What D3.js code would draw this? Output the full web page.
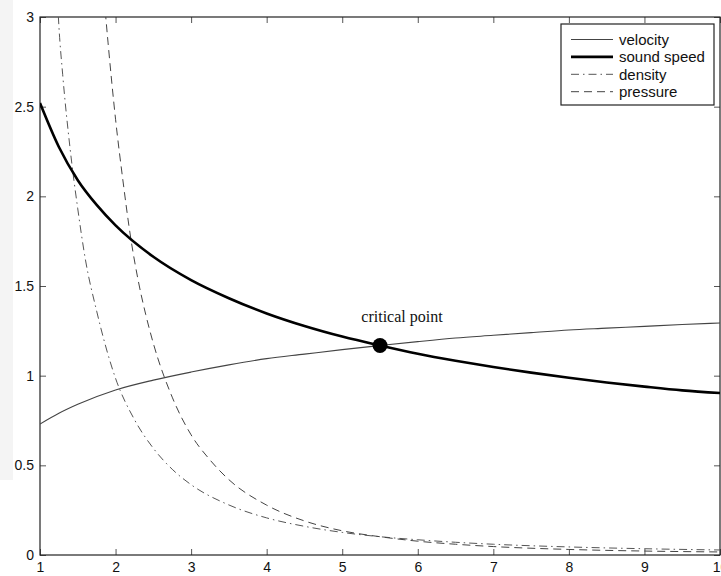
<!DOCTYPE html>
<html>
<head>
<meta charset="utf-8">
<script src="https://cdn.jsdelivr.net/npm/d3@7"></script>
<style>
  html, body { margin: 0; padding: 0; background: #fff; }
  svg { display: block; }
  .tick text { font-family: "Liberation Sans", Arial, Helvetica, sans-serif; font-size: 14px; fill: #111; }
</style>
</head>
<body>
<svg id="chart" width="721" height="576"></svg>
<script>
// Flow profiles along radius r (1..10)
const velocityR   = [1, 1.25, 1.5, 2, 2.5, 3, 3.5, 4, 4.5, 5, 5.5, 6, 6.5, 7, 7.5, 8, 8.5, 9, 9.5, 10];
const velocity    = [0.73, 0.79, 0.84, 0.92, 0.975, 1.02, 1.06, 1.095, 1.12, 1.145, 1.168, 1.19, 1.21, 1.225, 1.24, 1.255, 1.265, 1.275, 1.285, 1.294];

const soundR      = [1, 1.25, 1.5, 1.75, 2, 2.5, 3, 3.5, 4, 4.5, 5, 5.5, 6, 6.5, 7, 7.5, 8, 8.5, 9, 9.5, 10];
const soundSpeed  = [2.52, 2.275, 2.09, 1.952, 1.838, 1.663, 1.533, 1.432, 1.347, 1.277, 1.218, 1.168, 1.122, 1.083, 1.048, 1.017, 0.988, 0.962, 0.939, 0.918, 0.903];

const densityR    = [1.22, 1.25, 1.3, 1.4, 1.5, 1.6, 1.75, 2, 2.25, 2.5, 2.75, 3, 3.5, 4, 4.5, 5, 5.5, 6, 6.5, 7, 8, 9, 10];
const density     = [3.2, 2.95, 2.68, 2.26, 1.93, 1.65, 1.36, 0.985, 0.755, 0.595, 0.478, 0.392, 0.279, 0.207, 0.16, 0.126, 0.102, 0.085, 0.071, 0.06, 0.045, 0.035, 0.028];

const pressureR   = [1.82, 1.85, 1.9, 2, 2.1, 2.2, 2.3, 2.4, 2.5, 2.75, 3, 3.25, 3.5, 4, 4.5, 5, 5.5, 6, 6.5, 7, 8, 9, 10];
const pressure    = [3.25, 3.1, 2.86, 2.43, 2.08, 1.77, 1.53, 1.34, 1.18, 0.88, 0.67, 0.53, 0.42, 0.278, 0.19, 0.135, 0.102, 0.077, 0.06, 0.047, 0.031, 0.022, 0.017];

const criticalPoint = { r: 5.5, value: 1.168, label: "critical point" };

const xTicks = [1, 2, 3, 4, 5, 6, 7, 8, 9, 10];
const yTicks = [0, 0.5, 1, 1.5, 2, 2.5, 3];

const seriesNames = ["velocity", "sound speed", "density", "pressure"];

// ---- layout ----
const svg = d3.select("#chart");
const plotLeft = 40, plotRight = 720, plotTop = 17, plotBottom = 555;

const x = d3.scaleLinear().domain([1, 10]).range([plotLeft, plotRight]);
const y = d3.scaleLinear().domain([0, 3]).range([plotBottom, plotTop]);

// light panel strip at the page's left edge
svg.append("rect").attr("x", 0).attr("y", 0).attr("width", 13).attr("height", 480).attr("fill", "#f4f4f4");

svg.append("defs").append("clipPath").attr("id", "plotClip")
  .append("rect").attr("x", plotLeft).attr("y", plotTop)
  .attr("width", plotRight - plotLeft).attr("height", plotBottom - plotTop);

// axes with inward ticks on all four sides
const tickLen = 6;
const fmt = d => String(d);
svg.append("g").attr("transform", `translate(0,${plotBottom})`)
  .call(d3.axisBottom(x).tickValues(xTicks).tickFormat(fmt).tickSizeInner(-tickLen).tickSizeOuter(0).tickPadding(7))
  .call(g => g.select(".domain").remove());
svg.append("g").attr("transform", `translate(0,${plotTop})`)
  .call(d3.axisTop(x).tickValues(xTicks).tickFormat("").tickSizeInner(-tickLen).tickSizeOuter(0))
  .call(g => g.select(".domain").remove());
svg.append("g").attr("transform", `translate(${plotLeft},0)`)
  .call(d3.axisLeft(y).tickValues(yTicks).tickFormat(fmt).tickSizeInner(-tickLen).tickSizeOuter(0).tickPadding(6))
  .call(g => g.select(".domain").remove());
svg.append("g").attr("transform", `translate(${plotRight},0)`)
  .call(d3.axisRight(y).tickValues(yTicks).tickFormat("").tickSizeInner(-tickLen).tickSizeOuter(0))
  .call(g => g.select(".domain").remove());

svg.selectAll(".tick line").attr("stroke", "#555").attr("stroke-width", 1);

// plot frame
svg.append("rect").attr("x", plotLeft).attr("y", plotTop)
  .attr("width", plotRight - plotLeft).attr("height", plotBottom - plotTop)
  .attr("fill", "none").attr("stroke", "#222").attr("stroke-width", 1.2);

// curves
const styles = {
  "velocity":    { stroke: "#444", width: 1.1, dash: null },
  "sound speed": { stroke: "#000", width: 2.6, dash: null },
  "density":     { stroke: "#555", width: 1, dash: "8,4,1.5,4" },
  "pressure":    { stroke: "#444", width: 1, dash: "8,5" }
};
const data = {
  "velocity":    d3.zip(velocityR, velocity),
  "sound speed": d3.zip(soundR, soundSpeed),
  "density":     d3.zip(densityR, density),
  "pressure":    d3.zip(pressureR, pressure)
};
const line = d3.line().x(d => x(d[0])).y(d => y(d[1])).curve(d3.curveMonotoneX);

const plot = svg.append("g").attr("clip-path", "url(#plotClip)");
["density", "pressure", "velocity", "sound speed"].forEach(name => {
  const s = styles[name];
  plot.append("path").datum(data[name])
    .attr("d", line).attr("fill", "none")
    .attr("stroke", s.stroke).attr("stroke-width", s.width)
    .attr("stroke-dasharray", s.dash);
});

// critical point
svg.append("circle").attr("cx", x(criticalPoint.r)).attr("cy", y(criticalPoint.value)).attr("r", 7.5).attr("fill", "#000");
svg.append("text").attr("x", x(criticalPoint.r) + 22).attr("y", y(criticalPoint.value) - 24)
  .attr("text-anchor", "middle")
  .attr("font-family", "'Liberation Serif', 'Times New Roman', serif").attr("font-size", 16).attr("fill", "#111")
  .text(criticalPoint.label);

// legend
const lg = svg.append("g");
lg.append("rect").attr("x", 561).attr("y", 24).attr("width", 153).attr("height", 81)
  .attr("fill", "#fff").attr("stroke", "#222").attr("stroke-width", 1.2);
seriesNames.forEach((name, i) => {
  const s = styles[name];
  const cy = 39.5 + i * 17.4;
  lg.append("line").attr("x1", 571).attr("x2", 613).attr("y1", cy).attr("y2", cy)
    .attr("stroke", s.stroke).attr("stroke-width", s.width).attr("stroke-dasharray", s.dash);
  lg.append("text").attr("x", 619).attr("y", cy).attr("dy", "0.35em")
    .attr("font-family", "'Liberation Sans', Arial, Helvetica, sans-serif").attr("font-size", 15).attr("fill", "#111")
    .text(name);
});
</script>
</body>
</html>
